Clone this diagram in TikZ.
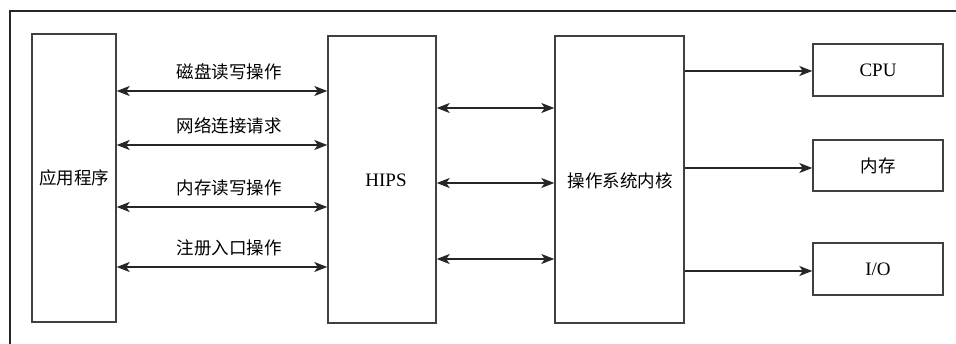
\documentclass[tikz,border=0pt]{standalone}
\usepackage{fontspec}
\setmainfont{Liberation Serif}
\newfontfamily\cjk{Noto Sans CJK SC}
\usetikzlibrary{arrows.meta}
\begin{document}
\begin{tikzpicture}[x=1pt,y=-1pt,
  blk/.style={draw=black!75,line width=1.4pt,inner sep=0pt},
  conn/.style={line width=1.4pt,draw=black!85},
  tip/.style={-{Stealth[length=13pt,width=10pt,inset=3.5pt]}},
  dtip/.style={{Stealth[length=13pt,width=10pt,inset=3.5pt]}-{Stealth[length=13pt,width=10pt,inset=3.5pt]}},
  lbl/.style={font=\fontsize{17.5}{20}\selectfont\cjk},
  lat/.style={font=\fontsize{19}{22}\selectfont}]
\useasboundingbox (0,0) rectangle (956,344);
\draw[line width=1.3pt,black!85] (10,344) -- (10,11) -- (956,11);
% boxes
\node[blk,minimum width=84pt,minimum height=288pt] (app) at (74,178) {};
\node[lbl] at (app.center) {应用程序};
\node[blk,minimum width=108pt,minimum height=287pt] (hips) at (382,179.5) {};
\node[lat] at (386,180) {HIPS};
\node[blk,minimum width=129pt,minimum height=287pt] (os) at (619.5,179.5) {};
\node[lbl] at (620,181) {操作系统内核};
\node[blk,minimum width=130pt,minimum height=52pt] (cpu) at (878,70) {};
\node[lat] at (cpu.center) {CPU};
\node[blk,minimum width=130pt,minimum height=51pt] (mem) at (878,165.5) {};
\node[lbl] at (mem.center) {内存};
\node[blk,minimum width=130pt,minimum height=52pt] (io) at (878,269) {};
\node[lat] at (io.center) {I/O};
% app <-> hips
\foreach \y/\t in {91/磁盘读写操作,145/网络连接请求,207/内存读写操作,267/注册入口操作}{
  \draw[conn,dtip] (app.east |- 0,\y) -- (hips.west |- 0,\y);
  \node[lbl] at (229,\y-19) {\t};
}
% hips <-> os
\foreach \y in {108,183,259}{
  \draw[conn,dtip] (hips.east |- 0,\y) -- (os.west |- 0,\y);
}
% os -> devices
\draw[conn,tip] (os.east |- 0,71) -- (cpu.west |- 0,71);
\draw[conn,tip] (os.east |- 0,168) -- (mem.west |- 0,168);
\draw[conn,tip] (os.east |- 0,271) -- (io.west |- 0,271);
\end{tikzpicture}
\end{document}
